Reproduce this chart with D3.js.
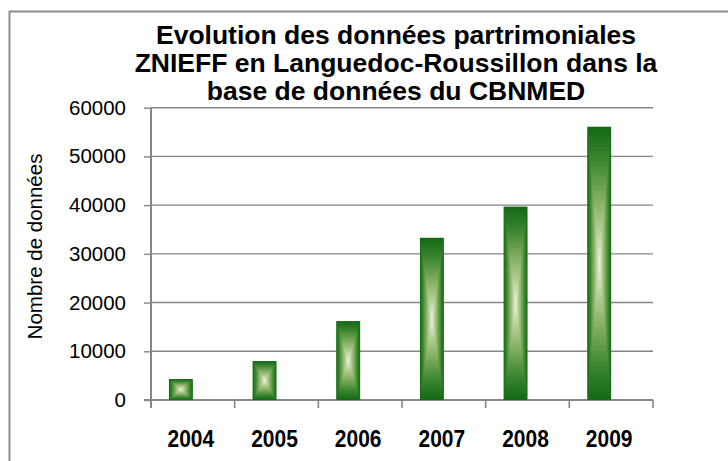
<!DOCTYPE html>
<html>
<head>
<meta charset="utf-8">
<script src="https://cdn.jsdelivr.net/npm/d3@7"></script>
<style>
	body { margin: 0; background: #fff; }
	svg { display: block; font-family: "Liberation Sans", Arial, sans-serif; }
</style>
</head>
<body>
<div id="chart"></div>
<script>
var titleLines = [
	"Evolution des données partrimoniales",
	"ZNIEFF en Languedoc-Roussillon dans la",
	"base de données du CBNMED"
];
var yLabel = "Nombre de données";
var years = ["2004", "2005", "2006", "2007", "2008", "2009"];
var values = [4300, 8000, 16200, 33300, 39700, 56100];
var series = ["donnees", "vide"];
var yTicks = [0, 10000, 20000, 30000, 40000, 50000, 60000];

var width = 728, height = 461;
var margin = {left: 151, right: 75, top: 107.7, bottom: 61};

var svg = d3.select("#chart").append("svg")
	.attr("width", width)
	.attr("height", height);

// frame (only top and left edges show in the picture)
svg.append("line")
	.attr("x1", 9.5).attr("y1", 11).attr("x2", 9.5).attr("y2", height)
	.style("stroke", "#8c8c8c").style("stroke-width", 2);
svg.append("line")
	.attr("x1", 9).attr("y1", 11.5).attr("x2", width).attr("y2", 11.5)
	.style("stroke", "#8c8c8c").style("stroke-width", 2);

// title
svg.append("g")
	.selectAll("text")
	.data(titleLines)
	.enter()
	.append("text")
	.attr("x", 396)
	.attr("y", function(d, i) { return 43.5 + i * 28.3; })
	.attr("text-anchor", "middle")
	.attr("font-size", "26.5px")
	.attr("font-weight", "bold")
	.text(function(d) { return d; });

var x0 = d3.scaleBand()
	.domain(years)
	.range([margin.left, width - margin.right]);

// excel style cluster: 2 series, gap width 150%
var gap = x0.bandwidth() * 1.5 / 3.5 / 2;
var x1 = d3.scaleBand()
	.domain(series)
	.range([gap, x0.bandwidth() - gap]);

var y = d3.scaleLinear()
	.domain([0, 60000])
	.range([height - margin.bottom, margin.top]);

var gridColor = "#868686";

// gridlines
svg.append("g")
	.selectAll("line")
	.data(yTicks.filter(function(d) { return d > 0; }))
	.enter()
	.append("line")
	.attr("x1", margin.left)
	.attr("x2", width - margin.right)
	.attr("y1", function(d) { return y(d); })
	.attr("y2", function(d) { return y(d); })
	.style("stroke", gridColor)
	.style("stroke-width", 1.4);

// y axis
var yAxis = svg.append("g")
	.attr("transform", "translate(" + margin.left + ",0)")
	.call(d3.axisLeft(y)
		.tickValues(yTicks)
		.tickSize(7)
		.tickPadding(18)
		.tickFormat(d3.format("d")));
yAxis.select(".domain").remove();
yAxis.selectAll(".tick line")
	.style("stroke", gridColor)
	.style("stroke-width", 1.4);
yAxis.selectAll(".tick text")
	.attr("font-size", "20.5px")
	.attr("font-family", "\"Liberation Sans\", Arial, sans-serif")
	.attr("fill", "#000");

svg.append("line")
	.attr("x1", margin.left).attr("x2", margin.left)
	.attr("y1", y(60000)).attr("y2", y(0) + 8)
	.style("stroke", gridColor)
	.style("stroke-width", 2);

// x axis
svg.append("line")
	.attr("x1", margin.left - 7).attr("x2", width - margin.right)
	.attr("y1", y(0)).attr("y2", y(0))
	.style("stroke", gridColor)
	.style("stroke-width", 2);

var bounds = years.map(function(d) { return x0(d); }).concat([x0.range()[1]]);
svg.append("g")
	.selectAll("line")
	.data(bounds.slice(1))
	.enter()
	.append("line")
	.attr("x1", function(d) { return d; })
	.attr("x2", function(d) { return d; })
	.attr("y1", y(0))
	.attr("y2", y(0) + 8)
	.style("stroke", gridColor)
	.style("stroke-width", 1.6);

// year labels are a little taller than wide in the original
svg.append("g")
	.selectAll("text")
	.data(years)
	.enter()
	.append("text")
	.attr("transform", function(d) {
		return "translate(" + (x0(d) + x0.bandwidth() / 2 - 2) + ",447) scale(1,1.12)";
	})
	.attr("text-anchor", "middle")
	.attr("font-size", "21px")
	.attr("font-weight", "bold")
	.text(function(d) { return d; });

// y axis title
svg.append("text")
	.attr("transform", "translate(41.5," + 246.5 + ") rotate(-90)")
	.attr("text-anchor", "middle")
	.attr("font-size", "20.5px")
	.text(yLabel);

// bars with a rectangular "from centre" gradient, drawn as nested bands
var steps = 28;
var shade = d3.interpolateRgbBasis(["#176a17", "#3a872e", "#7faa5c", "#aecb8c", "#e6efdb"]);

var bars = svg.append("g")
	.selectAll("g")
	.data(values.map(function(v, i) { return {year: years[i], value: v}; }))
	.enter()
	.append("g")
	.attr("transform", function(d) {
		return "translate(" + (x0(d.year) + x1("donnees")) + "," + y(d.value) + ")";
	});

bars.each(function(d) {
	var w = x1.bandwidth();
	var h = y(0) - y(d.value);
	var g = d3.select(this);
	d3.range(steps).forEach(function(k) {
		var dx = (w / 2) * k / steps;
		var dy = (h / 2) * k / steps;
		g.append("rect")
			.attr("x", dx)
			.attr("y", dy)
			.attr("width", w - 2 * dx)
			.attr("height", h - 2 * dy)
			.attr("fill", shade(k / (steps - 1)));
	});
});
</script>
</body>
</html>
